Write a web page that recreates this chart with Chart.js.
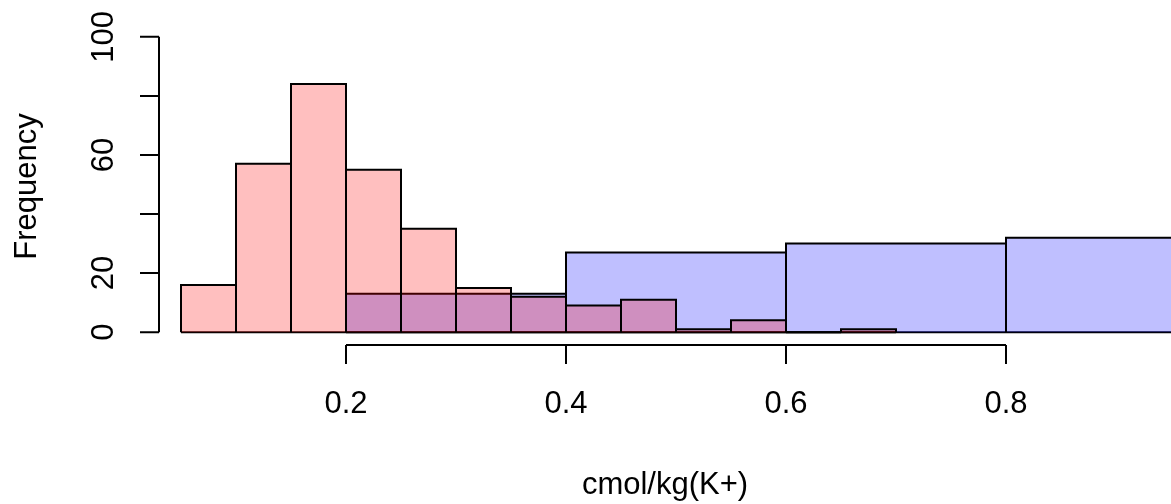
<!DOCTYPE html>
<html>
<head>
<meta charset="utf-8">
<style>
  html, body { margin: 0; padding: 0; background: #ffffff; }
  #wrap { width: 1171px; height: 504px; }
</style>
<script src="https://cdn.jsdelivr.net/npm/chart.js@4/dist/chart.umd.min.js"></script>
</head>
<body>
<div id="wrap"><canvas id="c" width="1171" height="504"></canvas></div>
<script>
// ---- data ----
const pinkBreaks = [0.05, 0.10, 0.15, 0.20, 0.25, 0.30, 0.35, 0.40, 0.45, 0.50, 0.55, 0.60, 0.65, 0.70];
const pinkCounts = [16, 57, 84, 55, 35, 15, 12, 9, 11, 1, 4, 0, 1];
const blueBreaks = [0.2, 0.4, 0.6, 0.8, 1.0];
const blueCounts = [13, 27, 30, 32];
const xTicks = [0.2, 0.4, 0.6, 0.8];
const xTickLabels = ['0.2', '0.4', '0.6', '0.8'];
const yTicks = [0, 20, 40, 60, 80, 100];
const yTickLabels = ['0', '20', '', '60', '', '100'];
const xTitle = 'cmol/kg(K+)';
const yTitle = 'Frequency';

// ---- build histogram rectangles ----
function rects(breaks, counts, fillColor, order) {
  const out = [];
  for (let i = 0; i < counts.length; i++) {
    const x0 = breaks[i], x1 = breaks[i + 1], h = counts[i];
    out.push({
      data: [{x: x0, y: 0}, {x: x0, y: h}, {x: x1, y: h}, {x: x1, y: 0}],
      backgroundColor: fillColor,
      borderColor: '#000000',
      borderWidth: 2,
      fill: 'origin',
      pointRadius: 0,
      pointHoverRadius: 0,
      tension: 0,
      borderJoinStyle: 'miter',
      order: order
    });
  }
  // bottom edges of the bars
  out.push({
    data: [{x: breaks[0], y: 0}, {x: breaks[breaks.length - 1], y: 0}],
    borderColor: '#000000',
    borderWidth: 2,
    fill: false,
    pointRadius: 0,
    pointHoverRadius: 0,
    order: order
  });
  return out;
}

const datasets = [
  ...rects(blueBreaks, blueCounts, 'rgba(0,0,255,0.25)', 1),
  ...rects(pinkBreaks, pinkCounts, 'rgba(255,0,0,0.25)', 0)
];

const FONT = '31px "Liberation Sans", Arial, Helvetica, sans-serif';

const rAxes = {
  id: 'rAxes',
  afterDraw(chart) {
    const ctx = chart.ctx;
    const xs = chart.scales.x, ys = chart.scales.y;
    const area = chart.chartArea;
    ctx.save();
    ctx.strokeStyle = '#000000';
    ctx.fillStyle = '#000000';
    ctx.lineWidth = 2;
    ctx.lineCap = 'butt';
    const tickLen = 19;

    // x axis
    const yAx = area.bottom + 1;
    ctx.beginPath();
    ctx.moveTo(xs.getPixelForValue(xTicks[0]), yAx);
    ctx.lineTo(xs.getPixelForValue(xTicks[xTicks.length - 1]), yAx);
    xTicks.forEach(v => {
      const px = xs.getPixelForValue(v);
      ctx.moveTo(px, yAx);
      ctx.lineTo(px, yAx + tickLen);
    });
    ctx.stroke();
    ctx.font = FONT;
    ctx.textAlign = 'center';
    ctx.textBaseline = 'alphabetic';
    xTicks.forEach((v, i) => {
      ctx.fillText(xTickLabels[i], xs.getPixelForValue(v), 413);
    });

    // y axis
    const xAx = area.left;
    ctx.beginPath();
    ctx.moveTo(xAx, ys.getPixelForValue(yTicks[0]));
    ctx.lineTo(xAx, ys.getPixelForValue(yTicks[yTicks.length - 1]));
    yTicks.forEach(v => {
      const py = ys.getPixelForValue(v);
      ctx.moveTo(xAx, py);
      ctx.lineTo(xAx - tickLen, py);
    });
    ctx.stroke();
    yTicks.forEach((v, i) => {
      if (!yTickLabels[i]) return;
      ctx.save();
      ctx.translate(113, ys.getPixelForValue(v));
      ctx.rotate(-Math.PI / 2);
      ctx.textAlign = 'center';
      ctx.fillText(yTickLabels[i], 0, 0);
      ctx.restore();
    });

    // titles
    ctx.textAlign = 'center';
    ctx.fillText(xTitle, (area.left + area.right) / 2, 494);
    ctx.save();
    ctx.translate(36, (area.top + area.bottom) / 2 + 2);
    ctx.rotate(-Math.PI / 2);
    ctx.fillText(yTitle, 0, 0);
    ctx.restore();
    ctx.restore();
  }
};

new Chart(document.getElementById('c'), {
  type: 'line',
  data: { datasets },
  options: {
    responsive: false,
    animation: false,
    events: [],
    layout: { padding: { left: 159, right: 0, top: 25, bottom: 160 } },
    plugins: { legend: { display: false }, tooltip: { enabled: false } },
    scales: {
      x: { type: 'linear', min: 0.03, max: 0.95, display: false },
      y: { type: 'linear', min: -4, max: 104, display: false }
    }
  },
  plugins: [rAxes]
});
</script>
</body>
</html>
